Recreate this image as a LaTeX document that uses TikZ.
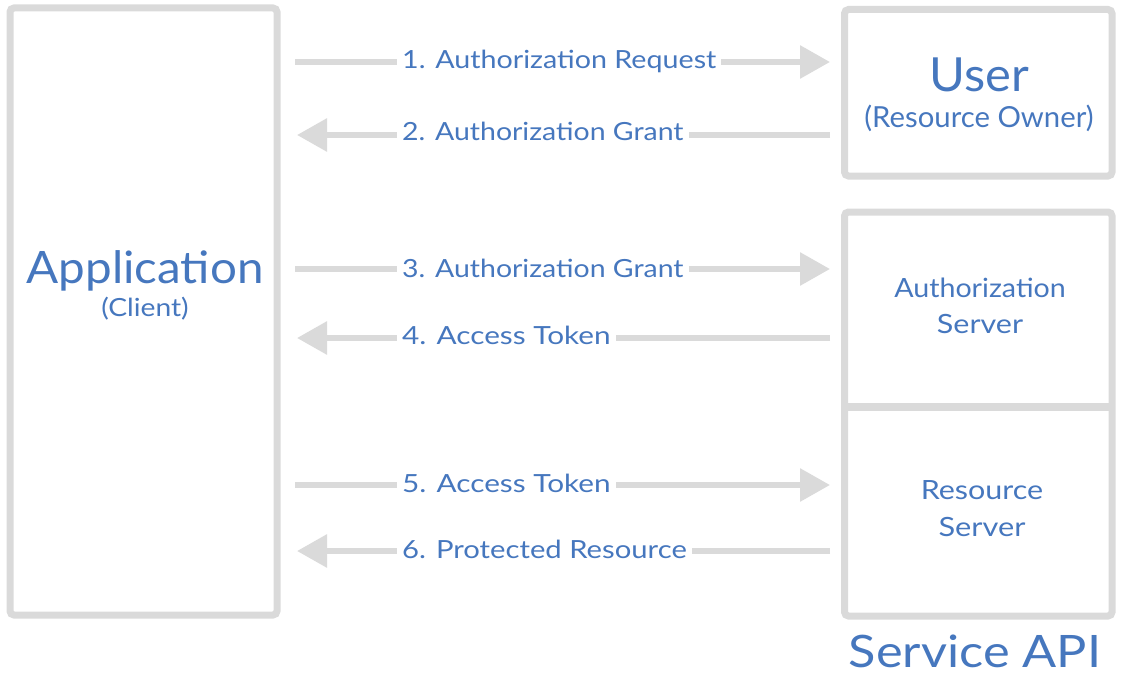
\documentclass[tikz,border=0pt]{standalone}
\usepackage{fontspec}
\usepackage{graphicx}
\setmainfont{Lato}
\usetikzlibrary{arrows.meta}
\definecolor{boxgray}{HTML}{DADADA}
\definecolor{txtblue}{HTML}{4677BE}
\newcommand{\wide}[2]{\scalebox{#1}[1]{#2}}
\tikzset{
  frame/.style={draw=boxgray, line width=7pt, rounded corners=4pt},
  flow/.style={draw=boxgray, line width=6pt, -{Triangle[width=32pt,length=30pt]}},
  flowlabel/.style={anchor=west, fill=white, text=txtblue, inner xsep=5pt, inner ysep=2pt,
     text height=18pt, text depth=0pt, font=\fontsize{25}{28}\selectfont},
  boxtext/.style={anchor=base, text=txtblue, inner sep=0pt},
}
\begin{document}
\begin{tikzpicture}[x=1pt,y=-1pt]
\useasboundingbox (0,0) rectangle (1123,682);
% boxes
\draw[frame] (10,8) rectangle (277,615);
\draw[frame] (844.5,9.5) rectangle (1112,176);
\draw[frame] (844.5,212) rectangle (1112,616);
\draw[draw=boxgray, line width=8pt] (844.5,407) -- (1112,407);
% anchors
\coordinate (a1) at (295,62);  \coordinate (b1) at (830,62);
\coordinate (a2) at (297,135); \coordinate (b2) at (830,135);
\coordinate (a3) at (295,269); \coordinate (b3) at (830,269);
\coordinate (a4) at (297,338); \coordinate (b4) at (830,338);
\coordinate (a5) at (295,485); \coordinate (b5) at (830,485);
\coordinate (a6) at (297,551); \coordinate (b6) at (830,551);
\draw[flow] (a1) -- (b1);
\draw[flow] (b2) -- (a2);
\draw[flow] (a3) -- (b3);
\draw[flow] (b4) -- (a4);
\draw[flow] (a5) -- (b5);
\draw[flow] (b6) -- (a6);
\node[flowlabel] (l1) at (397,60) {\wide{1.146}{1. Authorization Request}};
\node[flowlabel] (l2) at (397,131) {\wide{1.138}{2. Authorization Grant}};
\node[flowlabel] (l3) at (397,268) {\wide{1.138}{3. Authorization Grant}};
\node[flowlabel] (l4) at (397,335) {\wide{1.19}{4. Access Token}};
\node[flowlabel] (l5) at (397,483) {\wide{1.19}{5. Access Token}};
\node[flowlabel] (l6) at (397,549) {\wide{1.17}{6. Protected Resource}};
% box texts
\node[boxtext, font=\fontsize{44.7}{50}\selectfont] (app) at (145,283) {\wide{1.064}{Application}};
\node[boxtext, font=\fontsize{25}{30}\selectfont] (cli) at (145,316) {\wide{1.13}{(Client)}};
\node[boxtext, font=\fontsize{47}{52}\selectfont] (usr) at (979,92) {\wide{1.04}{User}};
\node[boxtext, font=\fontsize{29}{32}\selectfont] (own) at (979,128) {\wide{1.01}{(Resource Owner)}};
\node[boxtext, font=\fontsize{26.5}{30}\selectfont] (as1) at (980,297) {\wide{1.08}{Authorization}};
\node[boxtext, font=\fontsize{26.5}{30}\selectfont] (as2) at (980,333) {\wide{1.15}{Server}};
\node[boxtext, font=\fontsize{26.5}{30}\selectfont] (rs1) at (982,499) {\wide{1.15}{Resource}};
\node[boxtext, font=\fontsize{26.5}{30}\selectfont] (rs2) at (982,536) {\wide{1.16}{Server}};
\node[boxtext, font=\fontsize{44.7}{50}\selectfont] (api) at (975,667) {\wide{1.13}{Service API}};
\end{tikzpicture}
\end{document}
